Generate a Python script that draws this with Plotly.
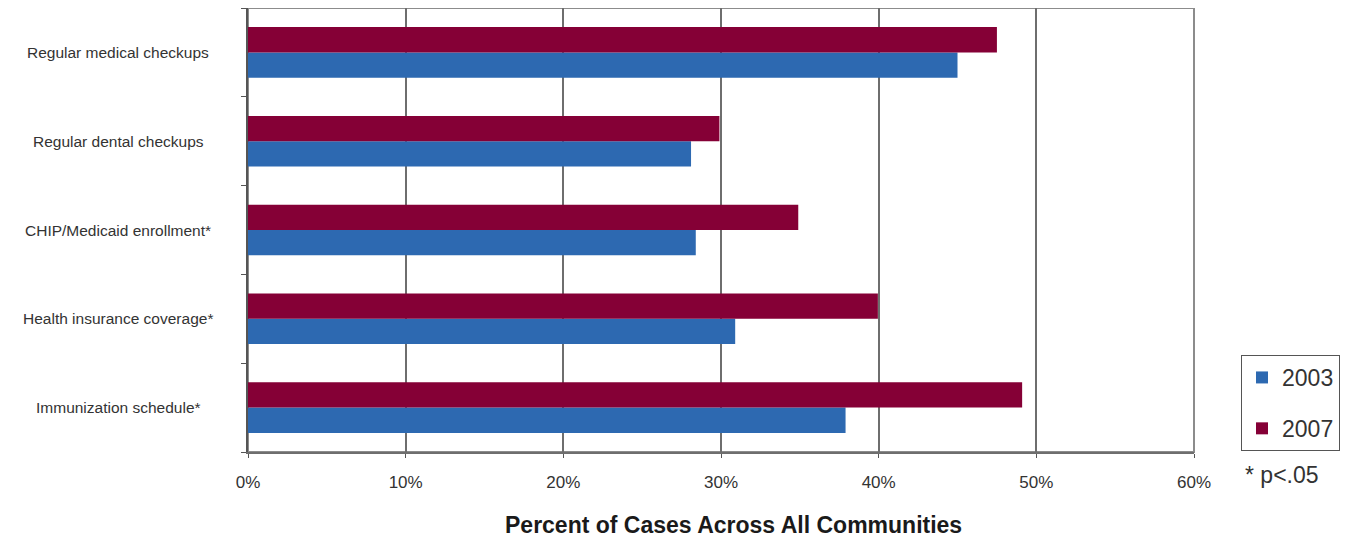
import plotly.graph_objects as go

# categories listed top to bottom as they appear in the chart
categories = [
    "Regular medical checkups",
    "Regular dental checkups",
    "CHIP/Medicaid enrollment*",
    "Health insurance coverage*",
    "Immunization schedule*",
]
values_2003 = [45.0, 28.1, 28.4, 30.9, 37.9]
values_2007 = [47.5, 29.9, 34.9, 39.95, 49.1]
x_ticks = [0, 10, 20, 30, 40, 50, 60]
x_tick_labels = ["0%", "10%", "20%", "30%", "40%", "50%", "60%"]

BLUE = "#2D69B1"
MAROON = "#850036"
TEXT = "#333333"
FONT = "Liberation Sans"

fig = go.Figure()

fig.add_trace(go.Bar(
    y=categories, x=values_2003, orientation="h", name="2003",
    marker=dict(color=BLUE, line=dict(width=0)), legendgroup="a",
))
fig.add_trace(go.Bar(
    y=categories, x=values_2007, orientation="h", name="2007",
    marker=dict(color=MAROON, line=dict(width=0)), legendgroup="b",
))

# centred category labels, placed left of the axis
for cat in categories:
    fig.add_annotation(
        x=-0.1374, y=cat, xref="paper", yref="y", text=cat,
        showarrow=False, xanchor="center", yanchor="middle",
        font=dict(family=FONT, size=15.5, color=TEXT),
    )

# outer frame (top / right border)
fig.add_shape(type="rect", xref="paper", yref="paper", x0=0, x1=1, y0=0, y1=1,
              line=dict(color="#8c8c8c", width=2), layer="below")

fig.add_annotation(
    x=0.5127, y=-0.164, xref="paper", yref="paper",
    text="<b>Percent of Cases Across All Communities</b>",
    showarrow=False, xanchor="center", yanchor="middle",
    font=dict(family=FONT, size=23, color="#1a1a1a"),
)
fig.add_annotation(
    x=1.0518, y=-0.0518, xref="paper", yref="paper", text="* p<.05",
    showarrow=False, xanchor="left", yanchor="middle",
    font=dict(family=FONT, size=23, color=TEXT),
)

# page body adds an 8px offset, so the figure is drawn 8px smaller
fig.update_layout(
    width=1343, height=534,
    margin=dict(l=240, r=157, t=0, b=90),
    paper_bgcolor="white", plot_bgcolor="white",
    barmode="group", bargap=0.43, bargroupgap=0,
    font=dict(family=FONT, color=TEXT),
    legend=dict(
        x=1.0497, y=0.2185, xanchor="left", yanchor="top",
        bordercolor="#555555", borderwidth=1,
        font=dict(family=FONT, size=23, color=TEXT),
        traceorder="grouped", tracegroupgap=18,
        itemwidth=30,
    ),
    xaxis=dict(
        range=[0, 60], tickvals=x_ticks, ticktext=x_tick_labels,
        showgrid=True, gridcolor="#6e6e6e", gridwidth=1.5,
        showline=True, linecolor="#6e6e6e", linewidth=2,
        ticks="outside", ticklen=4, tickcolor="#555555",
        ticklabelstandoff=10,
        tickfont=dict(family=FONT, size=17, color=TEXT),
        zeroline=False,
    ),
    yaxis=dict(
        categoryorder="array", categoryarray=categories[::-1],
        showticklabels=False, showgrid=False,
        showline=True, linecolor="#555555", linewidth=2,
        ticks="outside", ticklen=5, tickcolor="#555555",
        tickson="boundaries",
    ),
)

fig.write_html("out.html")
